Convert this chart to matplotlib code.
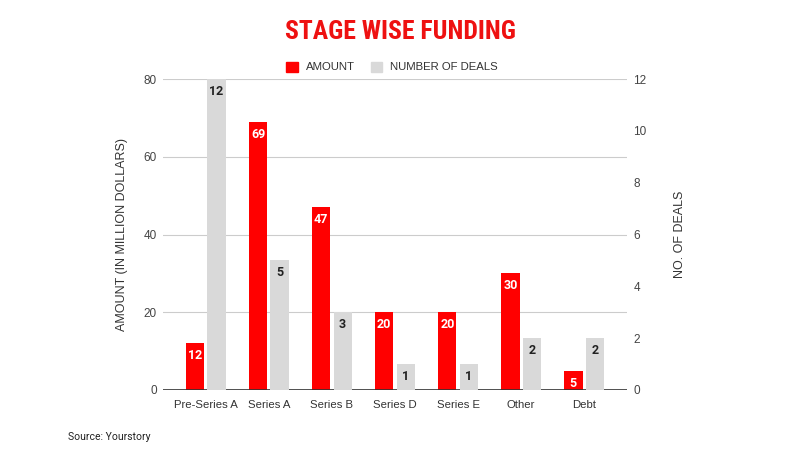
import matplotlib
matplotlib.use("Agg")
import matplotlib.pyplot as plt
import numpy as np
from matplotlib.patches import Patch

categories = ["Pre-Series A", "Series A", "Series B", "Series D", "Series E", "Other", "Debt"]
amount = [12, 69, 47, 20, 20, 30, 5]
deals = [12, 5, 3, 1, 1, 2, 2]
left_ticks = [0, 20, 40, 60, 80]
right_ticks = [0, 2, 4, 6, 8, 10, 12]

RED = "#ff0000"
GREY = "#d9d9d9"
TXT = "#444444"
LBL_FONT = "Liberation Sans"

fig = plt.figure(figsize=(8, 4.5), dpi=100)
ax = fig.add_axes([163/800, 1-390/450, (627-163)/800, (390-79)/450])
ax2 = ax.twinx()

x = np.arange(len(categories))
w = 0.29
off = 0.17
ax.bar(x - off, amount, width=w, color=RED, zorder=3)
ax2.bar(x + off, deals, width=w, color=GREY, zorder=3)

ax.set_ylim(0, 80)
ax2.set_ylim(0, 12)
ax.set_xlim(-0.68, 6.68)
ax.set_yticks(left_ticks)
ax2.set_yticks(right_ticks)
ax.set_xticks(x)
ax.set_xticklabels(categories, fontsize=8.2, color="#333333", family=LBL_FONT)
for a in (ax, ax2):
    for s in a.spines.values():
        s.set_visible(False)
    a.tick_params(axis="y", length=0, labelsize=8.5, labelcolor=TXT, pad=4.5)
    for lab in a.get_yticklabels():
        lab.set_family(LBL_FONT)
ax.tick_params(axis="x", length=0, pad=7)
ax.grid(axis="y", color="#cccccc", linewidth=0.8, zorder=0)
ax.set_axisbelow(True)
ax.axhline(0, color="#333333", linewidth=1.2, zorder=5)
ax2.set_zorder(ax.get_zorder() + 1)
ax2.patch.set_visible(False)

for i, v in enumerate(amount):
    ax.annotate(str(v), (x[i] - off, v), xytext=(0, -9), textcoords="offset points",
                ha="center", va="center", color="white", fontsize=9, fontweight="bold", family="Roboto", zorder=6)
for i, v in enumerate(deals):
    ax2.annotate(str(v), (x[i] + off, v), xytext=(0, -9), textcoords="offset points",
                 ha="center", va="center", color="#222222", fontsize=9, fontweight="bold", family="Roboto", zorder=6)

ax.set_ylabel("AMOUNT (IN MILLION DOLLARS)", fontsize=9, color="#333333", family=LBL_FONT, labelpad=11)
ax2.set_ylabel("NO. OF DEALS", fontsize=9, color="#333333", family=LBL_FONT, labelpad=20)

fig.text(0.5, 1-32/450, "STAGE WISE FUNDING", ha="center", va="center", color="#ee1111",
         fontsize=18.5, fontweight="bold", fontstretch="condensed", family=["Roboto Condensed", "DejaVu Sans"])

handles = [Patch(color=RED, label="AMOUNT"), Patch(color=GREY, label="NUMBER OF DEALS")]
leg = fig.legend(handles=handles, loc="center", bbox_to_anchor=(0.49, 1-67/450), ncol=2, frameon=False,
                 prop={"family": LBL_FONT, "size": 8.2}, handlelength=1.0, handleheight=1.0,
                 columnspacing=1.4, handletextpad=0.7)
for t in leg.get_texts():
    t.set_color("#333333")

fig.text(68/800, 1-437/450, "Source: Yourstory", fontsize=7.5, color="#222222", family="Roboto", va="center")

fig.savefig("out.png", dpi=100)
